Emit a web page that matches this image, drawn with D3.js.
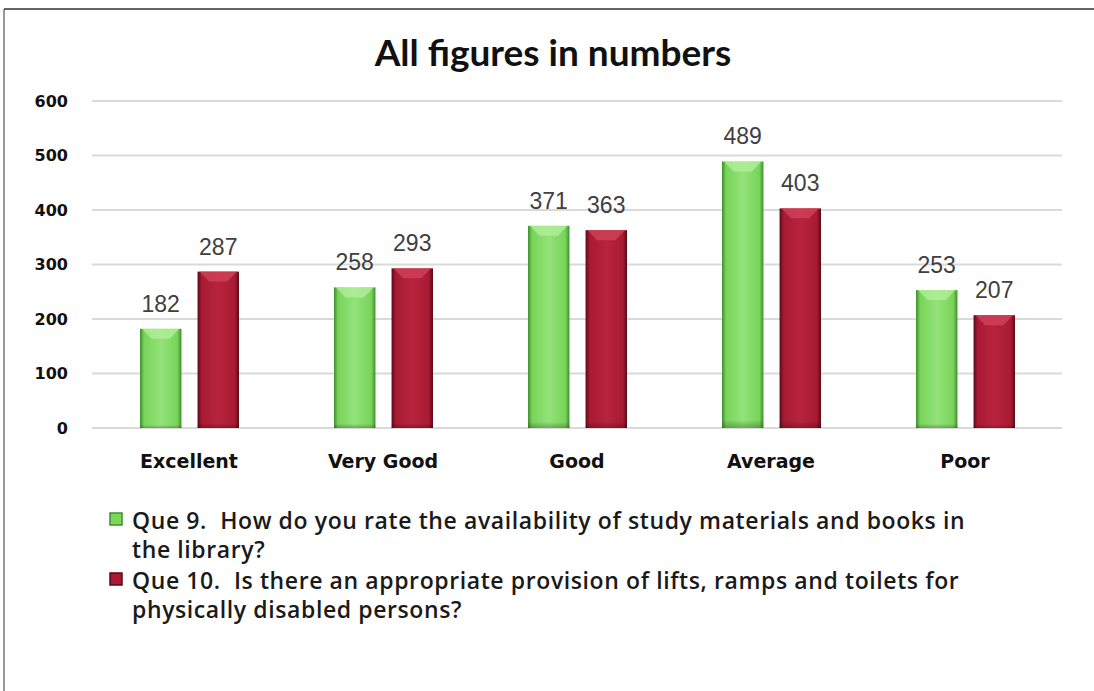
<!DOCTYPE html>
<html><head><meta charset="utf-8">
<script src="https://cdn.jsdelivr.net/npm/d3@7"></script>
<style>
html,body{margin:0;padding:0;background:#fff;}
svg{display:block;}
</style></head>
<body>
<svg id="chart" width="1094" height="691"></svg>
<script>
const categories = ["Excellent", "Very Good", "Good", "Average", "Poor"];
const que9 = [182, 258, 371, 489, 253];
const que10 = [287, 293, 363, 403, 207];
const seriesNames = [
  "Que 9.  How do you rate the availability of study materials and books in|the library?",
  "Que 10.  Is there an appropriate provision of lifts, ramps and toilets for|physically disabled persons?"
];
const yTicks = [0, 100, 200, 300, 400, 500, 600];
const title = "All figures in numbers";

const svg = d3.select("#chart");
const W = 1094, H = 691;

// border (top and left)
svg.append("line").attr("x1", 4).attr("x2", W).attr("y1", 9).attr("y2", 9).attr("stroke", "#333").attr("stroke-width", 1.5);
svg.append("line").attr("x1", 4).attr("x2", 4).attr("y1", 9).attr("y2", H).attr("stroke", "#555").attr("stroke-width", 1.2);

const defs = svg.append("defs");
function grad(id, dark, mid, light) {
  const g = defs.append("linearGradient").attr("id", id).attr("x1", "0%").attr("x2", "100%").attr("y1", "0%").attr("y2", "0%");
  [[0, dark], [0.1, mid], [0.5, light], [0.9, mid], [1, dark]].forEach(([o, c]) =>
    g.append("stop").attr("offset", o).attr("stop-color", c));
}
grad("gGreen", "#3f8f2c", "#78d45a", "#93e27a");
grad("gRed", "#5a0a16", "#a81a33", "#b8233d");
const gv = defs.append("linearGradient").attr("id", "gShade").attr("x1", "0%").attr("x2", "0%").attr("y1", "0%").attr("y2", "100%");
gv.append("stop").attr("offset", 0).attr("stop-color", "#000").attr("stop-opacity", 0);
gv.append("stop").attr("offset", 0.97).attr("stop-color", "#000").attr("stop-opacity", 0);
gv.append("stop").attr("offset", 1).attr("stop-color", "#000").attr("stop-opacity", 0.25);

const x = d3.scaleBand().domain(categories).range([92, 1062]);
const xs = d3.scaleBand().domain([0, 1]).range([x.bandwidth() / 2 - 49, x.bandwidth() / 2 + 50]).paddingInner(0.28);
const y = d3.scaleLinear().domain([0, 600]).range([428, 101]);

// title
svg.append("text").attr("x", 553).attr("y", 66).attr("text-anchor", "middle")
  .attr("font-family", "Lato").attr("font-weight", "bold").attr("font-size", 37).attr("fill", "#111").text(title);

// grid
svg.append("g").selectAll("line").data(yTicks).join("line")
  .attr("x1", 92).attr("x2", 1062).attr("y1", d => y(d)).attr("y2", d => y(d))
  .attr("stroke", "#d9d9d9").attr("stroke-width", 2);

// y axis labels
const yAxis = d3.axisLeft(y).tickValues(yTicks).tickSize(0).tickPadding(0);
const ya = svg.append("g").attr("transform", "translate(68,0)").call(yAxis);
ya.select(".domain").remove();
ya.selectAll("text").attr("font-family", "DejaVu Sans").attr("font-weight", "bold").attr("font-size", 16).attr("fill", "#111");

// x axis labels
const xAxis = d3.axisBottom(x).tickSize(0).tickPadding(0);
const xa = svg.append("g").attr("transform", "translate(0,454)").call(xAxis);
xa.select(".domain").remove();
xa.selectAll("text").attr("font-family", "DejaVu Sans").attr("font-weight", "bold").attr("font-size", 19).attr("fill", "#111");

const series = [
  { vals: que9, fill: "url(#gGreen)", hl: "#b4f09e" },
  { vals: que10, fill: "url(#gRed)", hl: "#d2445c" }
];
series.forEach((s, si) => {
  const g = svg.append("g");
  const data = categories.map((c, i) => ({ c, v: s.vals[i] }));
  const bx = d => x(d.c) + xs(si);
  const bw = xs.bandwidth();
  g.selectAll("rect.bar").data(data).join("rect").attr("class", "bar")
    .attr("x", bx).attr("y", d => y(d.v)).attr("width", bw).attr("height", d => y(0) - y(d.v))
    .attr("fill", s.fill);
  g.selectAll("rect.sh").data(data).join("rect").attr("class", "sh")
    .attr("x", bx).attr("y", d => y(d.v)).attr("width", bw).attr("height", d => y(0) - y(d.v))
    .attr("fill", "url(#gShade)");
  // top bevel highlight
  g.selectAll("path.hl").data(data).join("path").attr("class", "hl")
    .attr("d", d => {
      const x0 = bx(d), y0 = y(d.v);
      return `M${x0 + 2},${y0} L${x0 + bw - 2},${y0} L${x0 + bw * 0.72},${y0 + 10} L${x0 + bw * 0.28},${y0 + 10} Z`;
    })
    .attr("fill", s.hl).attr("opacity", 0.75);
  g.selectAll("text").data(data).join("text")
    .attr("x", d => bx(d) + bw / 2).attr("y", d => y(d.v) - 17)
    .attr("text-anchor", "middle").attr("font-family", "Liberation Sans").attr("font-size", 23)
    .attr("fill", "#404040").text(d => d.v);
});

// legend
const legColors = [["#7ed75c", "#3f8f2c"], ["#a81a33", "#5a0a16"]];
const legY = [529, 589];
seriesNames.forEach((n, i) => {
  const lines = n.split("|");
  const gy = legY[i];
  svg.append("rect").attr("x", 110).attr("y", gy - 16).attr("width", 12).attr("height", 12)
    .attr("fill", legColors[i][0]).attr("stroke", legColors[i][1]).attr("stroke-width", 1.5);
  lines.forEach((l, k) => {
    svg.append("text").attr("x", 132).attr("y", gy + k * 29)
      .attr("font-family", "Open Sans").attr("font-weight", 600).attr("font-size", 23)
      .attr("letter-spacing", 0.6)
      .attr("fill", "#1a1a1a").attr("xml:space", "preserve").style("white-space", "pre").text(l);
  });
});
</script>
</body></html>
